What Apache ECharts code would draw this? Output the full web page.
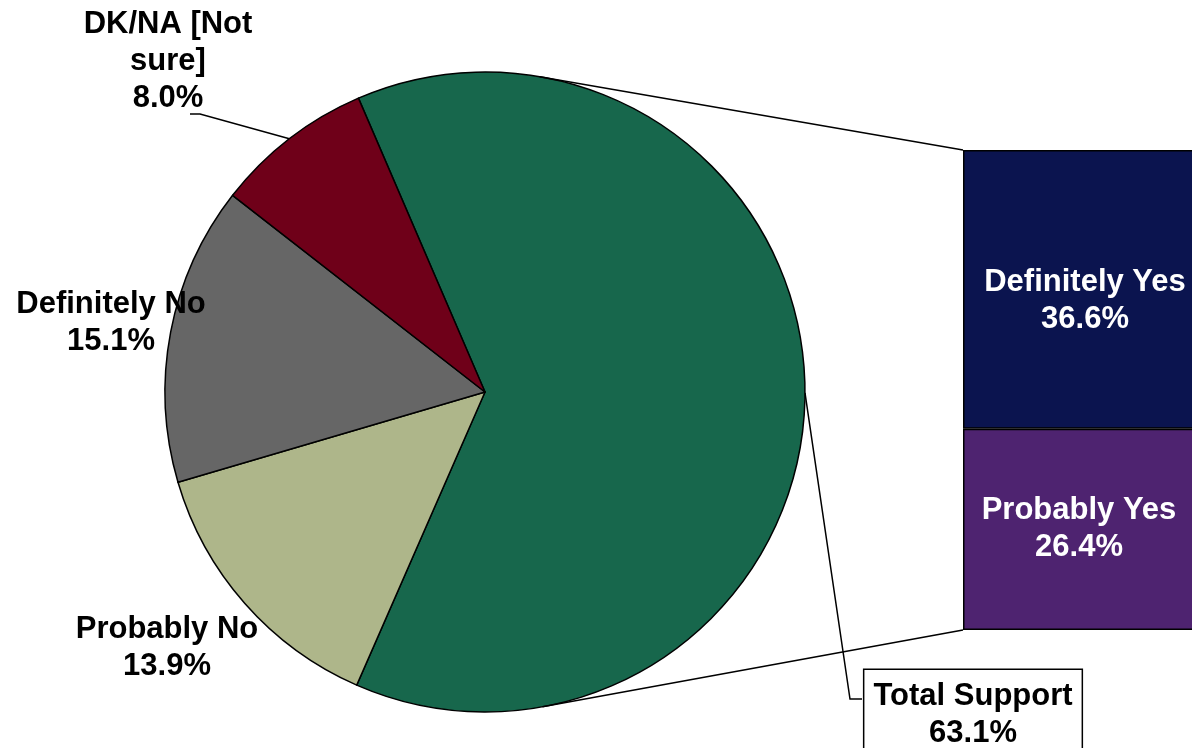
<!DOCTYPE html>
<html><head><meta charset="utf-8">
<script src="https://cdn.jsdelivr.net/npm/echarts@6/dist/echarts.min.js"></script>
<style>html,body{margin:0;padding:0;background:#fff;overflow:hidden}#c{width:1212px;height:748px}</style>
</head><body><div id="c"></div>
<script>
// Pie slices (clockwise from the top-left edge of the green slice)
const pieNames  = ['Total Support', 'Probably No', 'Definitely No', 'DK/NA [Not sure]'];
const pieLabels = ['Total Support', 'Probably No', 'Definitely No', 'DK/NA [Not\nsure]'];
const pieValues = [63.1, 13.9, 15.1, 8.0];
const pieColors = ['#17674C', '#AEB68A', '#666666', '#6F0019'];
// Breakdown bar (bottom to top)
const barNames  = ['Probably Yes', 'Definitely Yes'];
const barValues = [26.4, 36.6];
const barColors = ['#4E2370', '#0B144F'];

const FONT = '"Liberation Sans", Arial, sans-serif';
const CX = 485, CY = 392, R = 320, START = 113.3;
const GRID = {left: 963, top: 150, width: 240, height: 480};
const pieSum = pieValues.reduce((a, b) => a + b, 0);
const barSum = barValues.reduce((a, b) => a + b, 0);

function edgeMid(i) {
  let cum = 0;
  for (let k = 0; k < i; k++) cum += pieValues[k];
  const theta = (90 - START) + 360 * (cum + pieValues[i] / 2) / pieSum; // clockwise from top
  const t = theta * Math.PI / 180;
  return [CX + R * Math.sin(t), CY - R * Math.cos(t)];
}

// label placement (annotation positions)
const labelPos = {
  0: {x: 973, y: 670, align: 'center', verticalAlign: 'top', line: [[850, 699], [862, 699]]},
  1: {x: 167, y: 648, align: 'center', verticalAlign: 'middle'},
  2: {x: 111, y: 323, align: 'center', verticalAlign: 'middle'},
  3: {x: 168, y: 61, align: 'center', verticalAlign: 'middle', line: [[200, 114], [190, 114]]}
};

const chart = echarts.init(document.getElementById('c'));
chart.setOption({
  animation: false,
  backgroundColor: '#fff',
  grid: GRID,
  xAxis: {type: 'category', data: ['Yes'], show: false},
  yAxis: {type: 'value', min: 0, max: barSum, show: false},
  series: [
    {
      type: 'pie',
      center: [CX, CY],
      radius: R,
      startAngle: START,
      clockwise: true,
      avoidLabelOverlap: false,
      itemStyle: {borderColor: '#000', borderWidth: 1.5},
      label: {
        show: true, color: '#000', fontFamily: FONT, fontWeight: 'bold',
        fontSize: 31, lineHeight: 37,
        formatter: p => pieLabels[p.dataIndex] + '\n' + pieValues[p.dataIndex].toFixed(1) + '%'
      },
      labelLine: {show: false, lineStyle: {color: '#000', width: 1.5}},
      labelLayout: function (params) {
        const lp = labelPos[params.dataIndex];
        const out = {x: lp.x, y: lp.y, align: lp.align, verticalAlign: lp.verticalAlign};
        if (lp.line) out.labelLinePoints = [edgeMid(params.dataIndex)].concat(lp.line);
        return out;
      },
      data: pieValues.map((v, i) => {
        const d = {name: pieNames[i], value: v, itemStyle: {color: pieColors[i]}};
        if (i === 0) {
          d.label = {backgroundColor: '#fff', borderColor: '#000', borderWidth: 1.5, padding: [8, 9, 8, 9]};
          d.labelLine = {show: true};
        }
        if (i === 3) d.labelLine = {show: true};
        return d;
      })
    }
  ].concat(barValues.map((v, i) => ({
    type: 'bar',
    name: barNames[i],
    stack: 'yes',
    barWidth: '100%',
    data: [v],
    itemStyle: {color: barColors[i], borderColor: '#000', borderWidth: 1.5},
    label: {
      show: true, position: 'inside', color: '#fff', fontFamily: FONT, fontWeight: 'bold',
      fontSize: 31, lineHeight: 37, offset: i === 1 ? [2, 12] : [-4, 0],
      formatter: p => p.seriesName + '\n' + p.value.toFixed(1) + '%'
    }
  })))
});

// connector lines: tangents from the bar's left corners to the pie
const barLeft = GRID.left;
const yTop = chart.convertToPixel({yAxisIndex: 0}, barSum);
const yBot = chart.convertToPixel({yAxisIndex: 0}, 0);
function tangent(px, py, upper) {
  const dx = px - CX, dy = py - CY;
  const d = Math.sqrt(dx * dx + dy * dy);
  const phi = Math.atan2(dy, dx), a = Math.acos(R / d);
  const ang = upper ? phi - a : phi + a;
  return [CX + R * Math.cos(ang), CY + R * Math.sin(ang)];
}
const t1 = tangent(barLeft, yTop, true), t2 = tangent(barLeft, yBot, false);
chart.setOption({
  graphic: [
    {type: 'line', shape: {x1: t1[0], y1: t1[1], x2: barLeft, y2: yTop}, style: {stroke: '#000', lineWidth: 1.5}, z: 10},
    {type: 'line', shape: {x1: t2[0], y1: t2[1], x2: barLeft, y2: yBot}, style: {stroke: '#000', lineWidth: 1.5}, z: 10}
  ]
});
</script></body></html>
